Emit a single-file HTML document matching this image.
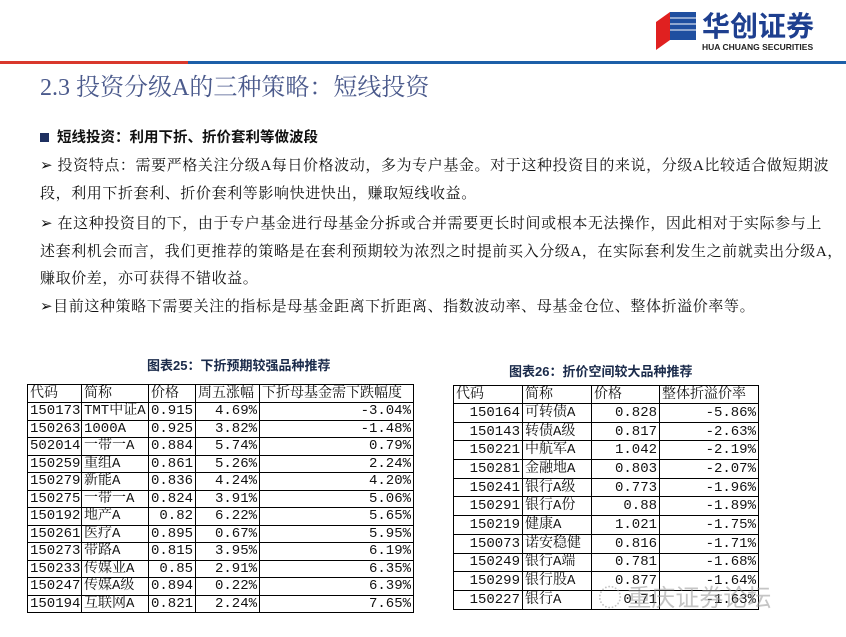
<!DOCTYPE html>
<html><head><meta charset="utf-8">
<style>
body{margin:0;width:846px;height:637px;background:#fff;position:relative;overflow:hidden;font-family:"Liberation Serif","Noto Serif CJK SC","Noto Sans CJK SC",serif;color:#111}
.a{position:absolute;white-space:nowrap}
.p{font-size:15px;left:40px;letter-spacing:0.6px;font-family:"Liberation Serif","Noto Serif CJK SC",serif}
table{position:absolute;border-collapse:collapse;font-size:14px;font-family:"Liberation Mono","Noto Serif CJK SC",monospace;table-layout:fixed}
td{border:1.5px solid #000;padding:0 2px;line-height:1;white-space:nowrap;overflow:hidden}
td.r{text-align:right}
.cap{font-weight:bold;font-size:13px;font-family:"Liberation Sans","Noto Sans CJK SC",sans-serif;color:#1a2a4a}
</style></head><body>
<div class="a" style="left:656px;top:12px;width:40px;height:38px">
<svg width="40" height="38"><polygon points="0,10 14,0 14,28 0,38" fill="#e02020"/><polygon points="14,0 40,0 40,28 14,28" fill="#1f4fa0"/><g stroke="#fff" stroke-width="1"><line x1="14" y1="6" x2="40" y2="6"/><line x1="14" y1="12" x2="40" y2="12"/><line x1="14" y1="18" x2="40" y2="18"/></g></svg></div>
<div class="a" style="left:702px;top:9px;font-size:28px;font-weight:bold;color:#1e3f8f;font-family:'Noto Sans CJK SC',sans-serif;line-height:32px">华创证券</div>
<div class="a" style="left:702px;top:42px;font-size:8.5px;font-weight:bold;color:#222;font-family:'Liberation Sans',sans-serif">HUA CHUANG SECURITIES</div>
<div class="a" style="left:0;top:61px;width:188px;height:3px;background:#d9382c"></div>
<div class="a" style="left:188px;top:61px;width:658px;height:3px;background:#1d5fa8"></div>
<div class="a" style="left:40px;top:72px;font-size:24px;color:#4b5a8c;line-height:32px">2.3 投资分级A的三种策略：短线投资</div>
<div class="a" style="left:40px;top:128px;font-size:14.5px;font-weight:bold;font-family:'Noto Sans CJK SC',sans-serif;line-height:18px"><span style="display:inline-block;width:9px;height:9px;background:#1e3060;margin-right:8px"></span>短线投资：利用下折、折价套利等做波段</div>
<div class="a p" style="top:154px">➢ 投资特点：需要严格关注分级A每日价格波动，多为专户基金。对于这种投资目的来说，分级A比较适合做短期波</div>
<div class="a p" style="top:182px">段，利用下折套利、折价套利等影响快进快出，赚取短线收益。</div>
<div class="a p" style="top:212px">➢ 在这种投资目的下，由于专户基金进行母基金分拆或合并需要更长时间或根本无法操作，因此相对于实际参与上</div>
<div class="a p" style="top:240px">述套利机会而言，我们更推荐的策略是在套利预期较为浓烈之时提前买入分级A，在实际套利发生之前就卖出分级A，</div>
<div class="a p" style="top:267px">赚取价差，亦可获得不错收益。</div>
<div class="a p" style="top:295px">➢目前这种策略下需要关注的指标是母基金距离下折距离、指数波动率、母基金仓位、整体折溢价率等。</div>

<div class="a cap" style="left:147px;top:355px">图表25：下折预期较强品种推荐</div>
<div class="a cap" style="left:509px;top:361px">图表26：折价空间较大品种推荐</div>

<table style="left:27px;top:384px;width:387px">
<colgroup><col style="width:54px"><col style="width:67px"><col style="width:47px"><col style="width:64px"><col style="width:154px"></colgroup>
<tbody id="t1"></tbody></table>
<table style="left:453px;top:385px;width:306px">
<colgroup><col style="width:69px"><col style="width:69px"><col style="width:68px"><col style="width:99px"></colgroup>
<tbody id="t2"></tbody></table>

<div class="a" style="left:598px;top:578px;font-size:24px;color:rgba(150,150,150,0.55);font-family:'Noto Sans CJK SC',sans-serif">◌ 重庆证券论坛</div>
<script>
const h1=["代码","简称","价格","周五涨幅","下折母基金需下跌幅度"];
const codes1=["150173","150263","502014","150259","150279","150275","150192","150261","150273","150233","150247","150194"];
const names1=["TMT中证A","1000A","一带一A","重组A","新能A","一带一A","地产A","医疗A","带路A","传媒业A","传媒A级","互联网A"];
const price1=["0.915","0.925","0.884","0.861","0.836","0.824","0.82","0.895","0.815","0.85","0.894","0.821"];
const chg1=["4.69%","3.82%","5.74%","5.26%","4.24%","3.91%","6.22%","0.67%","3.95%","2.91%","0.22%","2.24%"];
const drop1=["-3.04%","-1.48%","0.79%","2.24%","4.20%","5.06%","5.65%","5.95%","6.19%","6.35%","6.39%","7.65%"];
const h2=["代码","简称","价格","整体折溢价率"];
const codes2=["150164","150143","150221","150281","150241","150291","150219","150073","150249","150299","150227"];
const names2=["可转债A","转债A级","中航军A","金融地A","银行A级","银行A份","健康A","诺安稳健","银行A端","银行股A","银行A"];
const price2=["0.828","0.817","1.042","0.803","0.773","0.88","1.021","0.816","0.781","0.877","0.71"];
const prem2=["-5.86%","-2.63%","-2.19%","-2.07%","-1.96%","-1.89%","-1.75%","-1.71%","-1.68%","-1.64%","-1.63%"];
function row(tb,cells,rightFrom,hgt,name){
  const tr=document.createElement('tr');
  
  
  tr.style.height=hgt+'px';
  cells.forEach((c,i)=>{const td=document.createElement('td');td.textContent=c;
    
    
    if(rightFrom&&(i===0||i>=2))td.className='r';tr.appendChild(td);});
  tb.appendChild(tr);
}
const t1=document.getElementById('t1'),t2=document.getElementById('t2');
row(t1,h1,false,18,'header-row');
codes1.forEach((c,i)=>row(t1,[c,names1[i],price1[i],chg1[i],drop1[i]],true,17.5,'row-'+c));
row(t2,h2,false,18,'header-row');
codes2.forEach((c,i)=>row(t2,[c,names2[i],price2[i],prem2[i]],true,18.7,'row-'+c));
</script>
</body></html>
